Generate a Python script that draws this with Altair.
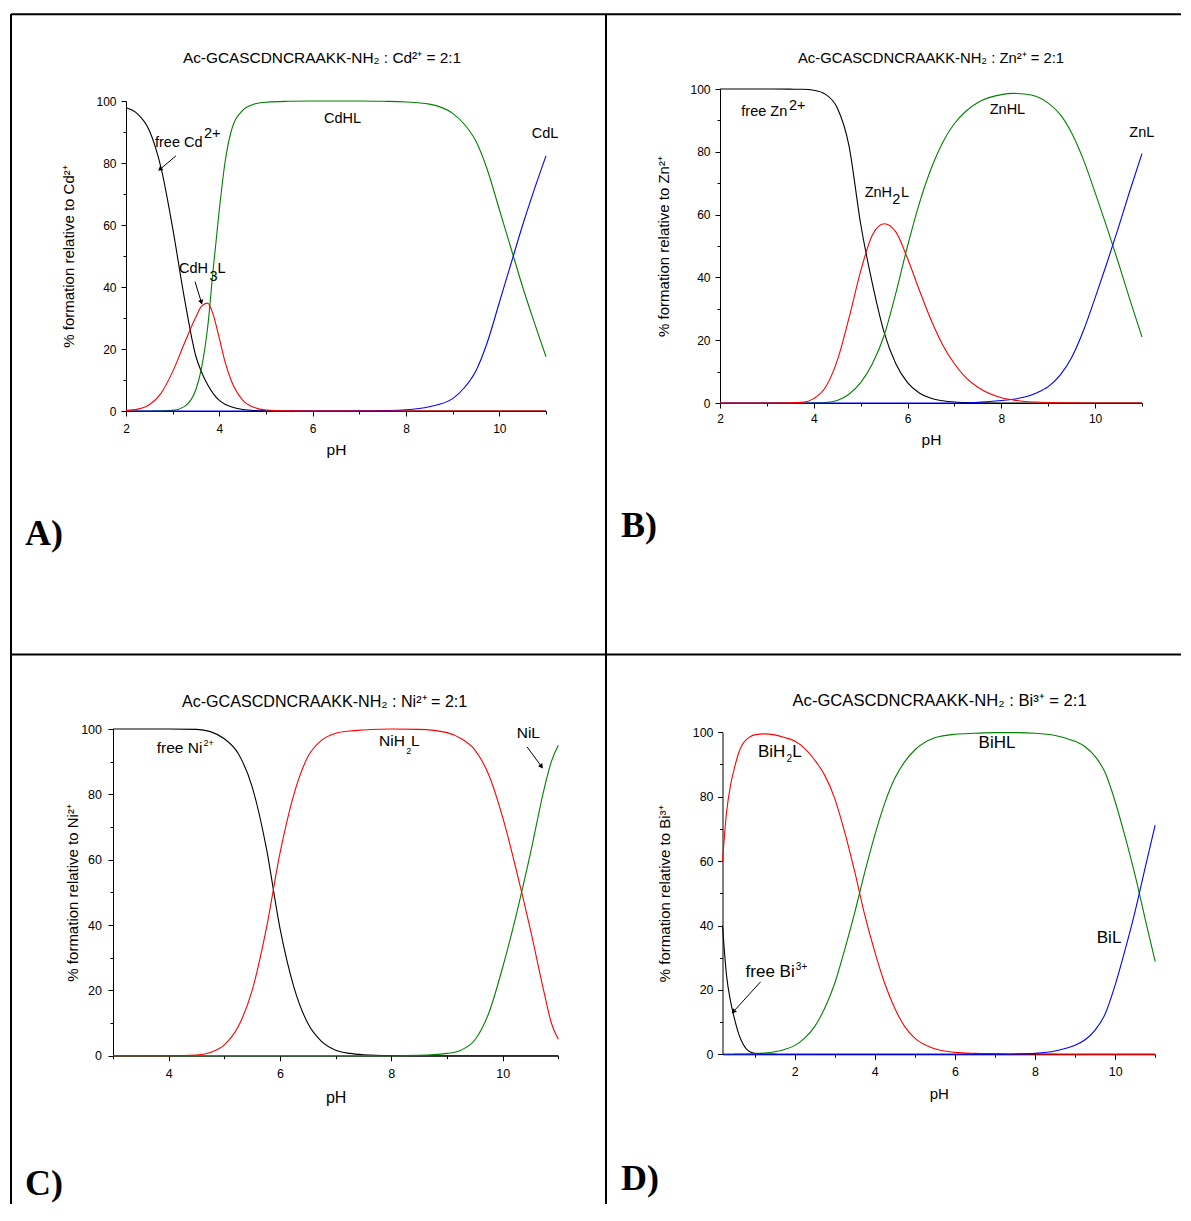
import altair as alt
import pandas as pd

FONT = "Liberation Sans"
BLACK, RED, GREEN, BLUE = "#000000", "#ff0000", "#008000", "#0000ff"

# ---------------- Panel A : Cd2+ ----------------
A_PH = [2.0, 2.25, 2.5, 2.75, 3.0, 3.25, 3.5, 3.62, 3.75, 3.87, 4.0, 4.12, 4.25, 4.5, 4.75, 5.0,
        5.5, 6.0, 6.5, 7.0, 7.5, 8.0, 8.5, 9.0, 9.25, 9.5, 9.75, 10.0, 10.25, 10.5, 10.75, 11.0]
A_FREE = [97.8, 95.8, 90.5, 78.5, 59.0, 36.5, 17.5, 12.5, 8.5, 5.6, 3.4, 2.2, 1.4, 0.5, 0.15, 0.05,
          0, 0, 0, 0, 0, 0, 0, 0, 0, 0, 0, 0, 0, 0, 0, 0]
A_H3L = [0.2, 0.6, 2.0, 5.7, 12.7, 21.8, 30.4, 33.8, 34.8, 31.0, 23.4, 16.0, 10.0, 3.5, 1.1, 0.3,
         0.05, 0, 0, 0, 0, 0, 0, 0, 0, 0, 0, 0, 0, 0, 0, 0]
A_HL = [0, 0, 0, 0.05, 0.2, 1.4, 7.0, 14.0, 27.0, 46.0, 65.0, 80.0, 90.0, 97.0, 99.0, 99.6,
        99.9, 100, 100, 100, 99.9, 99.7, 99.0, 96.0, 92.5, 87.0, 77.5, 65.0, 52.5, 40.0, 28.5, 17.5]
A_L = [0, 0, 0, 0, 0, 0, 0, 0, 0, 0, 0, 0, 0, 0, 0, 0,
       0, 0, 0, 0.05, 0.15, 0.4, 1.4, 4.0, 7.5, 13.0, 22.5, 35.0, 47.5, 60.0, 71.5, 82.3]

# ---------------- Panel B : Zn2+ ----------------
B_PH = [2.0, 2.5, 3.0, 3.5, 3.75, 4.0, 4.25, 4.5, 4.75, 5.0, 5.25, 5.5, 5.75, 6.0, 6.25, 6.5,
        6.75, 7.0, 7.25, 7.5, 8.0, 8.25, 8.5, 8.75, 9.0, 9.25, 9.5, 9.75, 10.0, 10.25, 10.5, 10.75, 11.0]
B_FREE = [100, 100, 100, 99.95, 99.9, 99.6, 98.3, 94.0, 82.0, 57.0, 38.0, 22.5, 12.5, 6.5, 3.2, 1.5,
          0.7, 0.3, 0.15, 0.05, 0, 0, 0, 0, 0, 0, 0, 0, 0, 0, 0, 0, 0]
B_H2L = [0, 0, 0, 0.05, 0.2, 1.4, 5.0, 13.5, 27.0, 42.0, 53.5, 57.1, 54.5, 46.0, 36.0, 26.5,
         18.5, 12.5, 8.0, 5.0, 1.7, 1.0, 0.5, 0.3, 0.15, 0.1, 0.05, 0, 0, 0, 0, 0, 0]
B_HL = [0, 0, 0, 0, 0, 0.05, 0.15, 0.8, 2.8, 6.5, 12.5, 21.5, 35.0, 50.0, 63.5, 74.5,
        83.0, 89.0, 93.0, 95.7, 98.2, 98.6, 98.4, 97.6, 95.5, 92.0, 86.0, 77.5, 67.0, 56.0, 44.5, 32.5, 21.0]
B_L = [0, 0, 0, 0, 0, 0, 0, 0, 0, 0, 0, 0, 0, 0, 0, 0,
       0, 0, 0, 0.2, 0.8, 1.2, 1.9, 3.2, 5.2, 8.8, 14.5, 23.0, 33.5, 44.5, 56.0, 68.0, 79.4]

# ---------------- Panel C : Ni2+ ----------------
C_PH = [3.0, 3.5, 4.0, 4.5, 4.75, 5.0, 5.25, 5.5, 5.75, 6.0, 6.25, 6.5, 6.75, 7.0, 7.25, 7.5,
        8.0, 8.5, 9.0, 9.25, 9.5, 9.75, 10.0, 10.25, 10.5, 10.75, 10.875, 11.0]
C_FREE = [100, 100, 100, 99.9, 99.2, 97.0, 92.5, 82.3, 64.0, 39.0, 21.0, 9.9, 4.3, 1.7, 0.7, 0.3,
          0.05, 0, 0, 0, 0, 0, 0, 0, 0, 0, 0, 0]
C_H2L = [0, 0, 0.02, 0.2, 1.0, 3.3, 8.9, 20.0, 38.5, 62.0, 80.0, 91.5, 96.6, 98.7, 99.4, 99.7,
         100, 99.9, 98.9, 97.1, 93.6, 86.0, 73.0, 56.5, 38.5, 19.0, 10.0, 5.0]
C_L = [0, 0, 0, 0, 0, 0, 0, 0, 0, 0, 0, 0, 0, 0, 0, 0,
       0, 0.1, 0.7, 1.7, 4.8, 13.0, 27.0, 43.5, 62.0, 82.0, 90.0, 95.0]

# ---------------- Panel D : Bi3+ ----------------
D_PH = [0.2, 0.3, 0.4, 0.5, 0.6, 0.7, 0.8, 0.9, 1.0, 1.25, 1.5, 1.75, 2.0, 2.25, 2.5, 2.75,
        3.0, 3.25, 3.5, 3.75, 4.0, 4.25, 4.5, 4.75, 5.0, 5.5, 6.0, 6.5, 7.0, 7.5, 8.0, 8.5,
        8.75, 9.0, 9.25, 9.5, 9.75, 10.0, 10.25, 10.5, 10.75, 11.0]
D_FREE = [40.0, 24.6, 16.5, 11.0, 6.5, 3.5, 1.6, 0.7, 0.3, 0.1, 0.05, 0, 0, 0, 0, 0,
          0, 0, 0, 0, 0, 0, 0, 0, 0, 0, 0, 0, 0, 0, 0, 0,
          0, 0, 0, 0, 0, 0, 0, 0, 0, 0]
D_H2L = [59.8, 75.0, 83.5, 89.0, 93.5, 96.3, 97.8, 98.7, 99.2, 99.5, 99.2, 98.4, 97.3, 95.0, 91.4, 86.7,
         79.5, 69.0, 56.7, 43.3, 31.9, 22.0, 14.3, 8.6, 5.0, 1.7, 0.6, 0.3, 0.2, 0.1, 0.1, 0.05,
         0, 0, 0, 0, 0, 0, 0, 0, 0, 0]
D_HL = [0, 0, 0, 0.05, 0.05, 0.1, 0.1, 0.15, 0.2, 0.4, 0.8, 1.5, 2.7, 5.0, 8.6, 14.3,
        22.0, 32.5, 44.0, 56.5, 68.0, 78.0, 85.7, 90.9, 94.5, 98.3, 99.4, 99.7, 99.9, 99.9, 99.7, 99.0,
        98.2, 97.2, 95.5, 92.5, 87.5, 78.5, 67.5, 55.5, 42.0, 28.8]
D_L = [0, 0, 0, 0, 0, 0, 0, 0, 0, 0, 0, 0, 0, 0, 0, 0,
       0, 0, 0, 0, 0, 0, 0, 0, 0, 0, 0, 0, 0, 0.1, 0.3, 1.0,
       1.8, 2.8, 4.5, 7.5, 12.5, 21.5, 32.5, 44.5, 58.0, 71.2]

# ---------------- texts ----------------
TITLES = ["Ac-GCASCDNCRAAKK-NH\u2082  : Cd\u00b2\u207a = 2:1",
          "Ac-GCASCDNCRAAKK-NH\u2082 : Zn\u00b2\u207a = 2:1",
          "Ac-GCASCDNCRAAKK-NH\u2082 : Ni\u00b2\u207a = 2:1",
          "Ac-GCASCDNCRAAKK-NH\u2082 : Bi\u00b3\u207a = 2:1"]
YTITLES = ["% formation relative to Cd\u00b2\u207a",
           "% formation relative to Zn\u00b2\u207a",
           "% formation relative to Ni\u00b2\u207a",
           "% formation relative to Bi\u00b3\u207a"]
LETTERS = ["A)", "B)", "C)", "D)"]
Y_TICKS = [0, 10, 20, 30, 40, 50, 60, 70, 80, 90, 100]

# curve annotations (text piece, pH, % at left baseline)
A_LAB_T = ["free Cd", "2+", "CdH", "3", "L", "CdHL", "CdL"]
A_LAB_X = [2.621, 3.671, 3.136, 3.789, 3.96, 6.243, 10.694]
A_LAB_Y = [85.16, 88.06, 44.52, 41.94, 44.52, 93.0, 87.97]
B_LAB_T = ["free Zn", "2+", "ZnH", "2", "L", "ZnHL", "ZnL"]
B_LAB_X = [2.454, 3.472, 5.086, 5.675, 5.860, 7.752, 10.729]
B_LAB_Y = [91.3, 93.3, 65.6, 63.47, 65.6, 92.13, 84.71]
C_LAB_T = ["free Ni", "2+", "NiH", "2", "L", "NiL"]
C_LAB_X = [3.785, 4.625, 7.779, 8.270, 8.354, 10.253]
C_LAB_Y = [92.56, 94.8, 94.8, 92.35, 94.8, 97.15]
D_LAB_T = ["BiH", "2", "L", "BiHL", "BiL", "free Bi", "3+"]
D_LAB_X = [1.083, 1.798, 1.940, 6.591, 9.542, 0.776, 2.03]
D_LAB_Y = [92.42, 90.78, 92.42, 95.22, 34.47, 23.91, 26.1]

# arrows: start (pH, %) -> tip (pH, %), head rotation
A_ARR = [(3.07, 82.3, 2.74, 78.1, 229.7), (3.48, 41.7, 3.61, 35.3, 163.3)]
C_ARR = [(10.44, 94.5, 10.69, 88.7, 143.6)]
D_ARR = [(1.15, 22.5, 0.485, 13.4, 222.3)]

ONE = pd.DataFrame({"a": [0]})


def tick_cond(mod):
    return {"condition": {"test": f"datum.value % {mod} === 0", "value": 5}, "value": 3}


def build(ph, series, xdom, xrng, yrng, xvals, xoff, yoff, ytitle, title, tpos, tfs,
          lab, lab_sizes, arrows, letter, lpos, w, h, ax, extra=()):
    xs = alt.Scale(domain=xdom, range=xrng, nice=False, zero=False)
    ys = alt.Scale(domain=[0, 100], range=yrng, nice=False, zero=False)
    xaxis = alt.Axis(values=xvals, labelExpr="datum.value % 2 === 0 ? datum.label : ''",
                     tickSize=tick_cond(2), offset=xoff, title="pH", grid=False,
                     labelFlush=False, labelOverlap=False, labelPadding=ax["xlp"],
                     titlePadding=ax["xtp"], labelFontSize=ax["lfs"], titleFontSize=ax["xtfs"])
    yaxis = alt.Axis(values=Y_TICKS, labelExpr="datum.value % 20 === 0 ? datum.label : ''",
                     tickSize=tick_cond(20), offset=yoff, title=ytitle, grid=False,
                     labelFlush=False, labelOverlap=False, labelPadding=ax["ylp"],
                     titlePadding=ax["ytp"], labelFontSize=ax["lfs"], titleFontSize=ax["ytfs"])
    X = alt.X("pH:Q", scale=xs, axis=xaxis)
    Y = alt.Y("pct:Q", scale=ys, axis=yaxis)
    layers = []
    for vals, color in series:
        df = pd.DataFrame({"pH": ph, "pct": vals})
        layers.append(alt.Chart(df).mark_line(color=color, strokeWidth=1.1,
                                              interpolate="monotone").encode(x=X, y=Y))
    t, lx, ly = lab
    ldf = pd.DataFrame({"t": t, "pH": lx, "pct": ly, "s": lab_sizes})
    layers.append(alt.Chart(ldf).mark_text(align="left", baseline="alphabetic", font=FONT,
                                           color="black").encode(
        x=X, y=Y, text="t:N", size=alt.Size("s:Q", scale=None, legend=None)))
    if arrows:
        adf = pd.DataFrame({"pH0": [a[0] for a in arrows], "pct0": [a[1] for a in arrows],
                            "pH": [a[2] for a in arrows], "pct": [a[3] for a in arrows],
                            "ang": [a[4] for a in arrows]})
        layers.append(alt.Chart(adf).mark_rule(color="black", strokeWidth=1).encode(
            x=X, y=Y, x2="pH0:Q", y2="pct0:Q"))
        layers.append(alt.Chart(adf).mark_point(shape="triangle", filled=True, size=28,
                                                color="black", opacity=1).encode(
            x=X, y=Y, angle=alt.Angle("ang:Q", scale=None)))
    layers.append(alt.Chart(ONE).mark_text(text=title, font=FONT, fontSize=tfs, align="center",
                                           baseline="alphabetic", color="black").encode(
        x=alt.value(tpos[0]), y=alt.value(tpos[1])))
    layers.append(alt.Chart(ONE).mark_text(text=letter, font="Liberation Serif", fontSize=36,
                                           fontWeight="bold", align="left",
                                           baseline="alphabetic", color="black").encode(
        x=alt.value(lpos[0]), y=alt.value(lpos[1])))
    layers.extend(extra)
    return alt.layer(*layers).properties(width=w, height=h)


def hrule(x1, x2, y):
    return alt.Chart(ONE).mark_rule(color="black", strokeWidth=2).encode(
        x=alt.value(x1), x2=alt.value(x2), y=alt.value(y))


def vrule(x, y1, y2):
    return alt.Chart(ONE).mark_rule(color="black", strokeWidth=2).encode(
        x=alt.value(x), y=alt.value(y1), y2=alt.value(y2))


BOTTOM = 1190
RIGHT = 1170
borders = [hrule(0, RIGHT, 0.3), hrule(0, RIGHT, 640.5), vrule(0, 0, BOTTOM), vrule(595, 0, BOTTOM)]

WL, WR, HT, HB = 595, 565, 641, 545

pA = build(A_PH, [(A_FREE, BLACK), (A_HL, GREEN), (A_L, BLUE), (A_H3L, RED)],
           [2, 11], [115, 535], [397, 87], [2, 3, 4, 5, 6, 7, 8, 9, 10, 11], 397 - HT, -115,
           YTITLES[0], TITLES[0], (311, 48.7), 15.4,
           (A_LAB_T, A_LAB_X, A_LAB_Y), [14.5, 14.5, 14.5, 14.5, 14.5, 14.5, 14.5],
           A_ARR, LETTERS[0], (14, 531), WL, HT,
           dict(xlp=7, xtp=8, ylp=5, ytp=19, lfs=12, xtfs=15.5, ytfs=15), extra=borders)

pB = build(B_PH, [(B_FREE, BLACK), (B_HL, GREEN), (B_L, BLUE), (B_H2L, RED)],
           [2, 11], [114, 536], [389, 75], [2, 3, 4, 5, 6, 7, 8, 9, 10, 11], 389 - HT, -114,
           YTITLES[1], TITLES[1], (325, 48.7), 14.8,
           (B_LAB_T, B_LAB_X, B_LAB_Y), [14.5, 14.5, 14.5, 14.5, 14.5, 14.5, 14.5],
           [], LETTERS[1], (15, 523), WR, HT,
           dict(xlp=5, xtp=8, ylp=5, ytp=18, lfs=12, xtfs=15.5, ytfs=15))

pC = build(C_PH, [(C_FREE, BLACK), (C_H2L, RED), (C_L, GREEN)],
           [3, 11], [102, 547.3], [400.7, 74], [3, 4, 5, 6, 7, 8, 9, 10, 11], 400.7 - HB, -102,
           YTITLES[2], TITLES[2], (313.6, 51.7), 16.1,
           (C_LAB_T, C_LAB_X, C_LAB_Y), [15.5, 9, 15.5, 9, 15.5, 15.5],
           C_ARR, LETTERS[2], (14, 540), WL, HB,
           dict(xlp=7, xtp=9, ylp=6.5, ytp=0, lfs=12.5, xtfs=16, ytfs=15))

pD = build(D_PH, [(D_FREE, BLACK), (D_HL, GREEN), (D_H2L, RED), (D_L, BLUE)],
           [0.2, 11], [116.5, 549.2], [399.3, 77.3], [1, 2, 3, 4, 5, 6, 7, 8, 9, 10, 11],
           399.3 - HB, -116.5,
           YTITLES[3], TITLES[3], (333.6, 51), 16.6,
           (D_LAB_T, D_LAB_X, D_LAB_Y), [17, 10, 17, 17, 17, 17, 10],
           D_ARR, LETTERS[3], (15, 535), WR, HB,
           dict(xlp=6, xtp=9, ylp=4.5, ytp=20, lfs=12.4, xtfs=15, ytfs=15))

chart = alt.concat(pA, pB, pC, pD, columns=2, spacing=0, bounds="flush", align="each").properties(
    padding={"left": 2, "top": 5, "right": 0, "bottom": 0}
).configure_view(stroke=None).configure_axis(
    labelFont=FONT, titleFont=FONT, labelColor="black", titleColor="black",
    domainColor="black", tickColor="black", titleFontWeight="normal",
    domainWidth=1, tickWidth=1
)

chart.save("out.html", embed_options={"renderer": "svg", "actions": False})
